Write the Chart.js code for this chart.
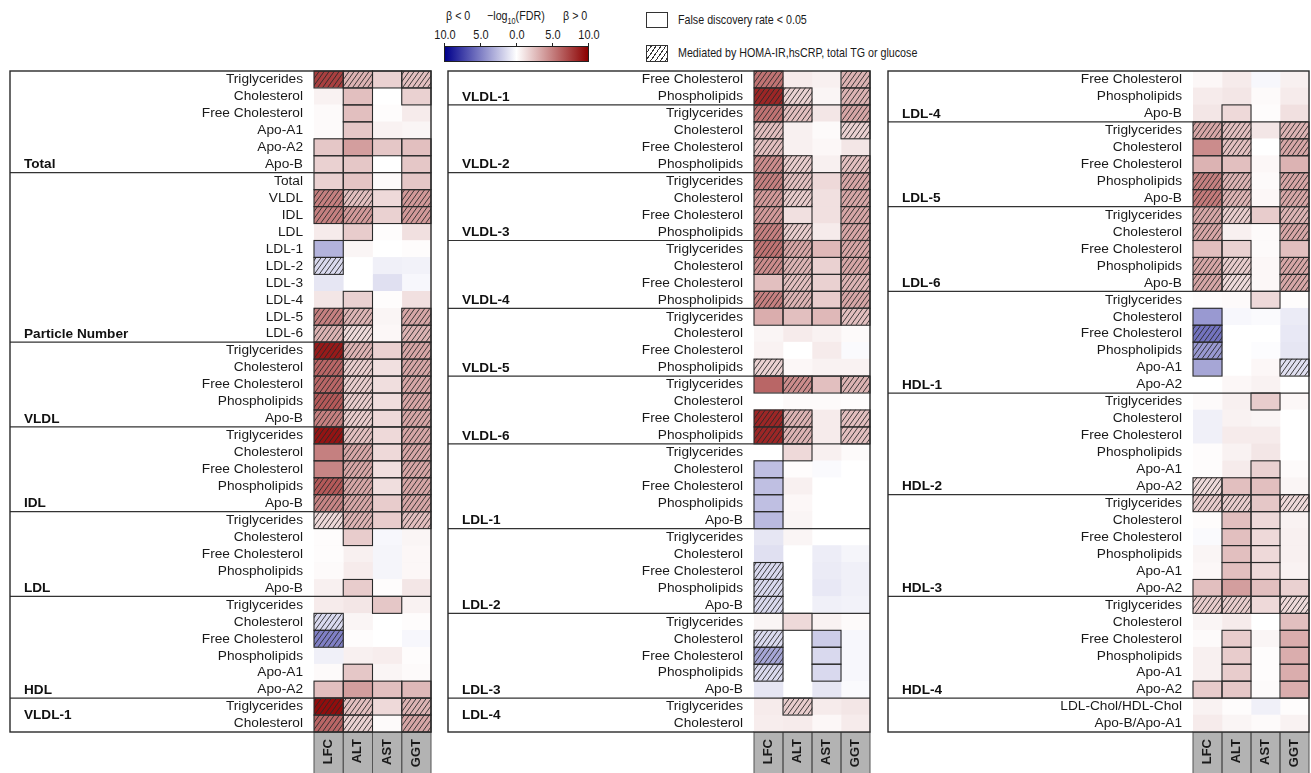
<!DOCTYPE html>
<html><head><meta charset="utf-8">
<script src="https://cdn.jsdelivr.net/npm/chart.js@4.4.1/dist/chart.umd.min.js"></script>
<style>
html,body{margin:0;padding:0;background:#fff}
body{width:1311px;height:773px;overflow:hidden;position:relative;font-family:"Liberation Sans",Arial,Helvetica,sans-serif;color:#1a1a1a}
.a{position:absolute;white-space:nowrap;line-height:14px;font-size:12.6px}
.t{transform:scale(0.85,1);transform-origin:0 50%}
.c{text-align:center;width:40px;transform:scale(0.87,1);transform-origin:50% 50%}
canvas{position:absolute}
</style></head><body>

<div class="a t" style="left:446px;top:9px">β &lt; 0</div>
<div class="a t" style="left:487px;top:9px">−log<sub style="font-size:8.5px;line-height:0">10</sub>(FDR)</div>
<div class="a t" style="left:563px;top:9px">β &gt; 0</div>
<div id="cbTicks"></div>
<div class="a" style="left:444px;top:46px;width:145px;height:16px;box-sizing:border-box;border:1px solid #222;background:linear-gradient(to right,#00008b,#ffffff 50%,#8b0000)"></div>
<div class="a" style="left:646px;top:12px;width:22px;height:16px;box-sizing:border-box;border:1px solid #333;background:#fff"></div>
<div class="a t" style="left:678px;top:13px">False discovery rate &lt; 0.05</div>
<div class="a" style="left:646px;top:45px;width:22px;height:17px;box-sizing:border-box;border:1px solid #333;background:repeating-linear-gradient(125deg,#fff 0 3px,#333 3px 4px)"></div>
<div class="a t" style="left:678px;top:46px">Mediated by HOMA-IR,hsCRP, total TG or glucose</div>

<canvas id="c1"></canvas>
<canvas id="c2"></canvas>
<canvas id="c3"></canvas>

<script>
// ---------- data ----------
const columns = ["LFC", "ALT", "AST", "GGT"];
const colorbarTicks = ["10.0", "5.0", "0.0", "5.0", "10.0"];

// Panel 1
const p1Rows = ["Triglycerides","Cholesterol","Free Cholesterol","Apo-A1","Apo-A2","Apo-B",
  "Total","VLDL","IDL","LDL","LDL-1","LDL-2","LDL-3","LDL-4","LDL-5","LDL-6",
  "Triglycerides","Cholesterol","Free Cholesterol","Phospholipids","Apo-B",
  "Triglycerides","Cholesterol","Free Cholesterol","Phospholipids","Apo-B",
  "Triglycerides","Cholesterol","Free Cholesterol","Phospholipids","Apo-B",
  "Triglycerides","Cholesterol","Free Cholesterol","Phospholipids","Apo-A1","Apo-A2",
  "Triglycerides","Cholesterol"];
const p1Groups = ["Total","Particle Number","VLDL","IDL","LDL","HDL","VLDL-1"];
const p1GroupEnds = [5, 15, 20, 25, 30, 36, 38];
const p1GroupLabelRows = [5, 15, 20, 25, 30, 36, 37.5];
// signed -log10(FDR), columns LFC, ALT, AST, GGT
const p1Values = [
  [7.5,3,1.8,2.5],[0.5,2.5,0,1.8],[0.2,2.5,0.1,0.8],[0.2,2.2,0.5,0.4],[2.2,3.8,2.2,2.5],[1.8,2.2,0,2.2],
  [1.8,2.3,0.2,2.2],[5,2.5,1.5,4],[5,4,1.8,4],[0.8,2,0.1,1.2],[-3,0.4,0,0.1],[-1.5,0,-0.6,-0.5],
  [-1,0,-1.2,-0.3],[1,1.8,0.1,1.2],[5,3,0.4,3.5],[3,1.5,0.3,3],
  [9,3,1.8,3.5],[6,2,1.2,3.5],[6,2,1.3,3.5],[6.5,2,1.3,3.5],[5,2,1.5,3.5],
  [9.2,2.5,1.5,3.5],[5,3.5,1.5,3.5],[4.8,3.5,1.3,3.5],[6.5,3.5,1.3,3.5],[4.8,3.5,2,3.5],
  [1.5,3,2,2.5],[0.1,2,-0.3,0.4],[0.1,0.6,-0.4,0.3],[0.2,0.8,-0.4,0.3],[0.6,2,0.1,1],
  [0.8,1,2.2,0.5],[-1.5,0.4,0,0.1],[-5,0.1,0,-0.3],[-0.6,0.6,0.7,0.1],[0.2,2.2,0.4,0.2],[2.5,3.8,2.5,2.8],
  [9.5,2.5,1.5,3],[6,1.8,0.2,3.5]];
// 0 = none, 1 = FDR < 0.05, 2 = FDR < 0.05 and mediated
const p1Flags = ["2212","0101","0100","0100","1111","1101",
  "1101","2212","2212","0100","1000","2000","0000","0100","2202","2202",
  "2212","2212","2212","2212","2212",
  "2212","1212","1212","2212","2212",
  "2212","0100","0000","0000","0100",
  "0010","2000","2000","0000","0100","1111",
  "2212","2202"];

// Panel 2
const p2Rows = ["Free Cholesterol","Phospholipids",
  "Triglycerides","Cholesterol","Free Cholesterol","Phospholipids",
  "Triglycerides","Cholesterol","Free Cholesterol","Phospholipids",
  "Triglycerides","Cholesterol","Free Cholesterol","Phospholipids",
  "Triglycerides","Cholesterol","Free Cholesterol","Phospholipids",
  "Triglycerides","Cholesterol","Free Cholesterol","Phospholipids",
  "Triglycerides","Cholesterol","Free Cholesterol","Phospholipids","Apo-B",
  "Triglycerides","Cholesterol","Free Cholesterol","Phospholipids","Apo-B",
  "Triglycerides","Cholesterol","Free Cholesterol","Phospholipids","Apo-B",
  "Triglycerides","Cholesterol"];
const p2Groups = ["VLDL-1","VLDL-2","VLDL-3","VLDL-4","VLDL-5","VLDL-6","LDL-1","LDL-2","LDL-3","LDL-4"];
const p2GroupEnds = [1, 5, 9, 13, 17, 21, 26, 31, 36, 38];
const p2GroupLabelRows = [1, 5, 9, 13, 17, 21, 26, 31, 36, 37.5];
const p2Values = [
  [5.5,0.8,0.6,3],[8.5,1.8,0.4,3],
  [5.5,2.5,1,3.5],[2.5,0.6,0.2,1.8],[2.5,0.6,0.3,1.0],[4.5,2,0.6,2.5],
  [5,2.5,1.5,3.5],[4,2,1.2,3.5],[4,1.2,1.2,3.5],[5,2,0.8,3.5],
  [5.5,3.5,2.8,3.5],[4.5,3,1.8,3.5],[2.5,2.5,1.8,3],[5,3,2,3.5],
  [3.2,2.5,2.8,2.5],[0.4,0.8,0.5,0.2],[0.5,0,0.8,-0.2],[1.8,0.3,0.5,0.5],
  [6,4.5,2.5,3],[0,0.2,0.2,0.1],[8.5,3,0.8,2.5],[8.5,3,0.8,2.5],
  [0,1.5,0.6,0.2],[-2.5,0.1,-0.2,0],[-2.5,0.6,0,0],[-2.5,0.3,0,0],[-2.7,0.4,0,0],
  [-1,0.4,0,0],[-1.2,0,-0.7,-0.4],[-1.5,0,-0.8,-0.6],[-1.5,0,-0.9,-0.6],[-1.5,0,-0.6,-0.5],
  [0.4,1.5,0.5,0.2],[-1.5,0,-2,-0.3],[-3.5,0,-1.5,-0.3],[-1.5,0,-1.5,-0.3],[-1,0,-1,-0.2],
  [0.8,2,0.8,1],[0.7,0.8,0.3,0.8]];
const p2Flags = ["2002","2202",
  "2202","2002","2000","2202",
  "2202","2202","2102","2202",
  "2212","2212","1212","2212",
  "1112","0000","0000","2000",
  "1212","0000","2202","2202",
  "0100","1000","1000","1000","1000",
  "0000","0000","2000","2000","2000",
  "0100","2010","2010","2010","0000",
  "0200","0000"];

// Panel 3
const p3Rows = ["Free Cholesterol","Phospholipids","Apo-B",
  "Triglycerides","Cholesterol","Free Cholesterol","Phospholipids","Apo-B",
  "Triglycerides","Cholesterol","Free Cholesterol","Phospholipids","Apo-B",
  "Triglycerides","Cholesterol","Free Cholesterol","Phospholipids","Apo-A1","Apo-A2",
  "Triglycerides","Cholesterol","Free Cholesterol","Phospholipids","Apo-A1","Apo-A2",
  "Triglycerides","Cholesterol","Free Cholesterol","Phospholipids","Apo-A1","Apo-A2",
  "Triglycerides","Cholesterol","Free Cholesterol","Phospholipids","Apo-A1","Apo-A2",
  "LDL-Chol/HDL-Chol","Apo-B/Apo-A1"];
const p3Groups = ["LDL-4","LDL-5","LDL-6","HDL-1","HDL-2","HDL-3","HDL-4",""];
const p3GroupEnds = [2, 7, 12, 18, 24, 30, 36, 38];
const p3GroupLabelRows = [2, 7, 12, 18, 24, 30, 36, 38];
const p3Values = [
  [0.3,0.8,-0.3,0.6],[0.8,1,0.2,0.8],[1,1.5,0.1,1.2],
  [3.5,2.5,1,3],[4.5,2.5,0,3.5],[3,2.5,0.3,3],[5,3,0.2,3.5],[5.2,3,0.3,3.5],
  [3.5,2,2,3],[3.5,0.6,0.2,3.5],[2.5,1.8,0.2,2.5],[3.5,2,0.3,3.5],[3.5,1.5,0.3,3.5],
  [0.1,0.2,1.5,0.1],[-4,-0.3,-0.2,-0.8],[-5.5,0,0,-0.9],[-4,0,-0.1,-1.0],[-3.5,0,0.3,-1.2],[0,0.3,0.5,0],
  [0.2,0.6,2,0.3],[-0.6,0.5,0.4,0],[-0.6,0.8,0.8,0],[0.1,0.5,1,0],[0.1,0.8,1.8,0.2],[1.5,2.5,2.5,0.4],
  [2,2,2.2,1.5],[0.1,2.5,1.5,0.5],[-0.2,2.5,1.5,0.6],[0.4,2.5,1.5,0.6],[0.3,2.5,1.5,0.5],[2.5,3.8,2.5,1.8],
  [2,2,1.5,1.5],[0.4,0.8,0,2.5],[0.2,2,0.4,3.2],[0.6,2,0.1,3.2],[0.6,2,0.1,3.2],[2,2.2,0.2,3.2],
  [0.5,0.1,-0.6,0.1],[0.8,0.4,0.2,0.5]];
const p3Flags = ["0000","0000","0100",
  "2202","1202","1101","2202","2202",
  "2212","2002","1101","2202","2202",
  "0010","1000","2000","2000","1002","0000",
  "0010","0000","0000","0000","0010","2110",
  "2212","0110","0110","0110","0110","1111",
  "2212","0001","0101","0101","0101","1101",
  "0000","0000"];

// ---------- helpers ----------
const FONT = '"Liberation Sans", Arial, Helvetica, sans-serif';

function cellColor(v) {
  const t = Math.min(Math.abs(v) / 10, 1);
  if (v >= 0) return `rgb(${Math.round(255 - 116 * t)},${Math.round(255 - 255 * t)},${Math.round(255 - 255 * t)})`;
  return `rgb(${Math.round(255 - 255 * t)},${Math.round(255 - 255 * t)},${Math.round(255 - 116 * t)})`;
}
const hatchCache = {};
function hatch(color) {
  if (hatchCache[color]) return hatchCache[color];
  const w = 5, h = 7;
  const c = document.createElement('canvas'); c.width = w; c.height = h;
  const g = c.getContext('2d');
  g.fillStyle = color; g.fillRect(0, 0, w, h);
  g.strokeStyle = '#2a2a2a'; g.lineWidth = 0.9;
  for (const dx of [-w, 0, w]) { g.beginPath(); g.moveTo(dx, h); g.lineTo(dx + w, 0); g.stroke(); }
  const p = g.createPattern(c, 'repeat');
  hatchCache[color] = p;
  return p;
}

// colorbar tick labels and marks
(function () {
  const holder = document.getElementById('cbTicks');
  colorbarTicks.forEach((t, i) => {
    const cx = 444.5 + i * 144 / 4;
    const d = document.createElement('div');
    d.className = 'a c'; d.style.left = (cx - 20) + 'px'; d.style.top = '28px'; d.style.fontSize = '12.6px';
    d.textContent = t; holder.appendChild(d);
    const m = document.createElement('div');
    m.className = 'a'; m.style.left = Math.round(cx - 0.5) + 'px'; m.style.top = '43px';
    m.style.width = '1px'; m.style.height = '3px'; m.style.background = '#222';
    holder.appendChild(m);
  });
})();

function makePanel(id, panelLeft, cellsLeft, cellsRight, rows, values, flags, groups, groupEnds, groupLabelRows) {
  const canvasLeft = panelLeft - 2, canvasTop = 66;
  const cv = document.getElementById(id);
  cv.width = cellsRight + 2 - canvasLeft;
  cv.height = 773 - canvasTop;
  cv.style.left = canvasLeft + 'px';
  cv.style.top = canvasTop + 'px';

  const plugin = {
    id: 'panel_' + id,
    beforeDraw(chart) {
      const { ctx, chartArea: a } = chart;
      const xs = chart.scales.x;
      const half = (xs.getPixelForValue(1) - xs.getPixelForValue(0)) / 2;
      ctx.save();
      ctx.fillStyle = '#b3b3b3';
      ctx.fillRect(a.left, a.bottom, a.right - a.left, chart.height - a.bottom + 1);
      ctx.strokeStyle = '#555'; ctx.lineWidth = 1;
      for (let i = 0; i < columns.length; i++) {
        const x0 = xs.getPixelForValue(i) - half;
        ctx.strokeRect(x0, a.bottom, 2 * half, chart.height - a.bottom + 2);
      }
      ctx.restore();
    },
    afterDatasetsDraw(chart) {
      const { ctx } = chart;
      ctx.save();
      ctx.strokeStyle = '#2a2a2a'; ctx.lineWidth = 1.1;
      chart.data.datasets.forEach((ds, ci) => {
        const meta = chart.getDatasetMeta(ci);
        meta.data.forEach((el, r) => {
          if (flags[r][ci] === '0') return;
          const p = el.getProps(['x', 'y', 'base', 'width'], true);
          const top = Math.min(p.y, p.base), h = Math.abs(p.base - p.y);
          ctx.strokeRect(p.x - p.width / 2, top, p.width, h);
        });
      });
      ctx.restore();
    },
    afterDraw(chart) {
      const { ctx, chartArea: a } = chart;
      const ys = chart.scales.y;
      const px = panelLeft - canvasLeft;
      ctx.save();
      ctx.strokeStyle = '#333'; ctx.lineWidth = 1.2;
      groupEnds.slice(0, -1).forEach(e => {
        const y = ys.getPixelForValue(e + 0.5);
        ctx.beginPath(); ctx.moveTo(px, y); ctx.lineTo(a.right, y); ctx.stroke();
      });
      ctx.lineWidth = 1.4; ctx.strokeStyle = '#2a2a2a';
      ctx.strokeRect(px, a.top, a.right - px, a.bottom - a.top);
      ctx.fillStyle = '#111';
      ctx.font = 'bold 13.6px ' + FONT;
      ctx.textBaseline = 'middle'; ctx.textAlign = 'left';
      groups.forEach((g, i) => {
        if (!g) return;
        ctx.fillText(g, px + 14, ys.getPixelForValue(groupLabelRows[i]) + 0.5);
      });
      ctx.restore();
    }
  };

  return new Chart(cv, {
    type: 'bar',
    data: {
      labels: columns,
      datasets: columns.map((c, ci) => ({
        label: c,
        data: rows.map((_, r) => ({ x: c, y: [r - 0.5, r + 0.5] })),
        grouped: false,
        barPercentage: 1,
        categoryPercentage: 1,
        borderWidth: 0,
        backgroundColor: (ctx) => {
          const r = ctx.dataIndex;
          if (r === undefined || !values[r]) return '#fff';
          const col = cellColor(values[r][ci]);
          return flags[r][ci] === '2' ? hatch(col) : col;
        }
      }))
    },
    options: {
      responsive: false,
      animation: false,
      events: [],
      layout: { padding: { top: 5, right: 2, left: 0, bottom: 0 } },
      plugins: { legend: { display: false }, tooltip: { enabled: false } },
      scales: {
        x: {
          type: 'category',
          offset: true,
          grid: { display: false, drawTicks: false },
          border: { display: false },
          ticks: { autoSkip: false, minRotation: 90, maxRotation: 90, padding: 7, color: '#1a1a1a',
                   font: { family: FONT, size: 13, weight: 'bold' } },
          afterFit: (s) => { s.height = 41; s.paddingLeft = 0; s.paddingRight = 0; }
        },
        y: {
          type: 'linear',
          reverse: true,
          min: -0.5, max: 38.5,
          bounds: 'data',
          grid: { display: false, drawTicks: false },
          border: { display: false },
          ticks: { autoSkip: false, padding: 11, color: '#1a1a1a',
                   font: { family: FONT, size: 13.7 },
                   callback: (v) => (rows[v] !== undefined ? rows[v] : '') },
          afterBuildTicks: (s) => { s.ticks = rows.map((_, i) => ({ value: i })); },
          afterFit: (s) => { s.width = cellsLeft - canvasLeft; s.paddingTop = 0; s.paddingBottom = 0; }
        }
      }
    },
    plugins: [plugin]
  });
}

makePanel('c1', 10, 314, 431, p1Rows, p1Values, p1Flags, p1Groups, p1GroupEnds, p1GroupLabelRows);
makePanel('c2', 448, 754, 870, p2Rows, p2Values, p2Flags, p2Groups, p2GroupEnds, p2GroupLabelRows);
makePanel('c3', 888, 1193, 1309, p3Rows, p3Values, p3Flags, p3Groups, p3GroupEnds, p3GroupLabelRows);
</script>
</body></html>
